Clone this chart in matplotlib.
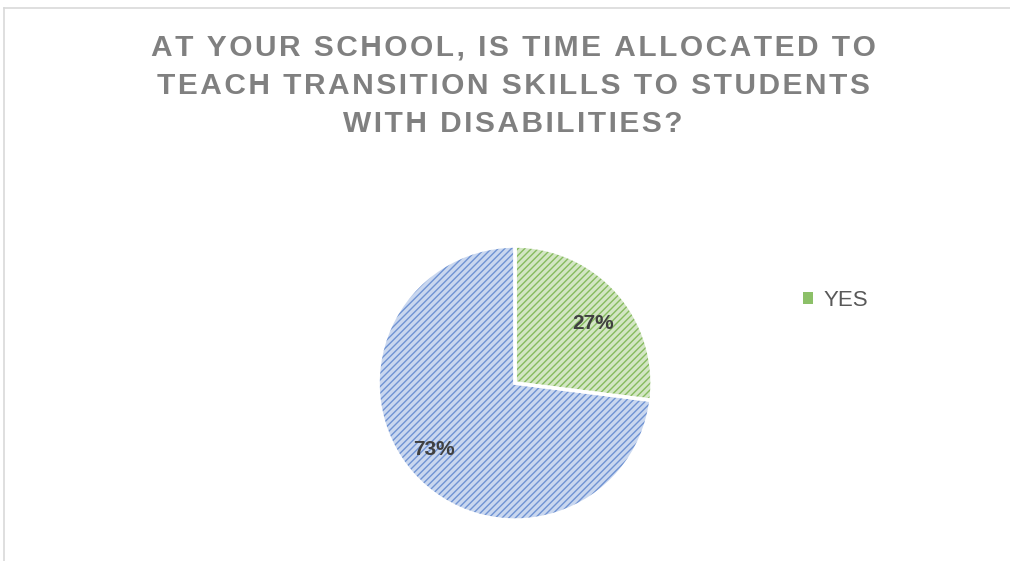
import numpy as np
import matplotlib.pyplot as plt
from matplotlib.lines import Line2D
from matplotlib.patches import Patch

title_lines = ["AT YOUR SCHOOL, IS TIME ALLOCATED TO",
               "TEACH TRANSITION SKILLS TO STUDENTS",
               "WITH DISABILITIES?"]
labels = ["YES", "NO"]
shares = [27, 73]
face_colors = ["#d3e6c4", "#c9d7ef"]
hatch_colors = ["#86bb5e", "#6f93d3"]

plt.rcParams["font.family"] = ["Liberation Sans", "DejaVu Sans"]
plt.rcParams["hatch.linewidth"] = 1.0

fig = plt.figure(figsize=(10.1, 5.61), dpi=100)

# thin frame like the exported chart area
fig.add_artist(Line2D([4 / 1010, 1], [1 - 8 / 561, 1 - 8 / 561], color="#d9d9d9", lw=1.2))
fig.add_artist(Line2D([4 / 1010, 4 / 1010], [0, 1 - 8 / 561], color="#d9d9d9", lw=1.2))

# letter-spaced title (hair spaces for tracking)
spaced = "\n".join("\u200a".join(line) for line in title_lines)
fig.text(0.508, 0.94, spaced, ha="center", va="top", fontsize=21.5, fontweight="bold",
         color="#808080", linespacing=1.47)

ax = fig.add_axes([0.3743, 0.073, 0.2713, 0.4884])
wedges, _, autotexts = ax.pie(shares, startangle=90, counterclock=False, colors=face_colors,
                              autopct="%1.0f%%", pctdistance=0.71,
                              wedgeprops=dict(linewidth=0),
                              textprops=dict(fontsize=15, fontweight="bold", color="#404040"))
for w, hc in zip(wedges, hatch_colors):
    w.set_hatch("/////")
    w.set_edgecolor(hc)
# white separators on top
ax.pie(shares, startangle=90, counterclock=False, colors=["none", "none"],
       wedgeprops=dict(linewidth=2.5, edgecolor="white"))
# label placement: (distance from centre, angle shift from wedge middle)
for t, w, d, shift in zip(autotexts, wedges, [0.72, 0.765], [-4, -2]):
    ang = np.deg2rad((w.theta1 + w.theta2) / 2 + shift)
    t.set_position((d * np.cos(ang), d * np.sin(ang)))
    t.set_zorder(5)
ax.set_xlim(-1, 1)
ax.set_ylim(-1, 1)
ax.set_aspect("equal")

handle = Patch(facecolor="#8cc068", edgecolor="none")
fig.legend([handle], [labels[0]], loc="center left", bbox_to_anchor=(0.775, 0.465),
           frameon=False, fontsize=16, handlelength=0.45, handleheight=0.45,
           handletextpad=0.5, labelcolor="#595959")

fig.savefig("out.png", dpi=100)
